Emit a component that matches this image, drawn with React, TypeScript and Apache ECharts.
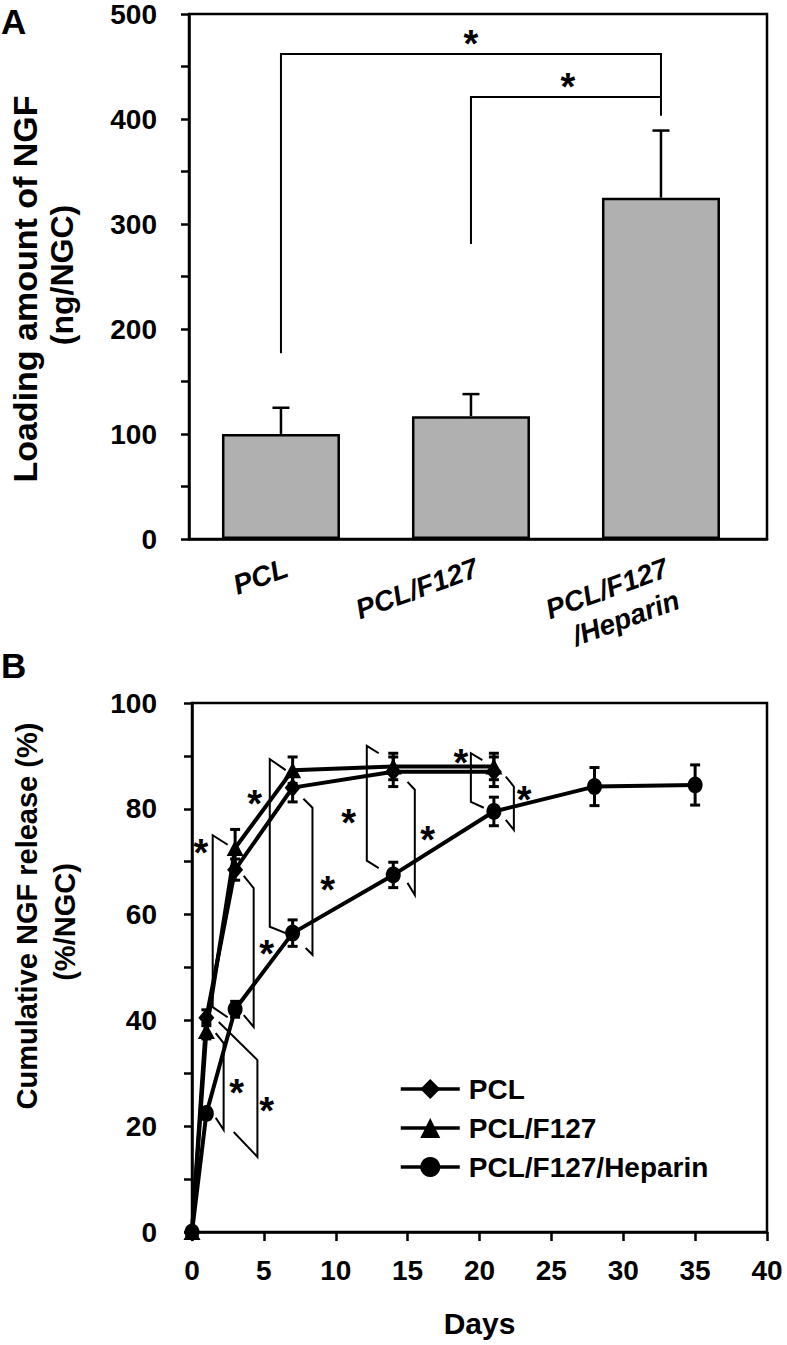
import React, { useEffect, useRef } from 'react';
import * as echarts from 'echarts';

const FONT = "'Liberation Sans', Arial, Helvetica, sans-serif";

// ---------- Panel A data ----------
const groups = ['PCL', 'PCL/F127', 'PCL/F127\n/Heparin'];
const groupPos = [0, 1, 2];
const loadingMean = [100, 117, 325];
const loadingSD = [25, 21, 64];
const sigBracketsA = [
  [[0, 177], [0, 462], [2, 462], [2, 403]],
  [[1, 281], [1, 421], [2, 421]],
];
const sigStarsA = [[1.0, 479], [1.51, 438]];

// ---------- Panel B data ----------
const seriesNames = ['PCL', 'PCL/F127', 'PCL/F127/Heparin'];
const daysPCL = [0, 1, 3, 7, 14, 21];
const releasePCL = [0, 40.5, 68.5, 84, 87, 87];
const sdPCL = [0, 1.5, 2, 2.7, 2.8, 2.8];
const daysF127 = [0, 1, 3, 7, 14, 21];
const releaseF127 = [0, 38, 72.6, 87.3, 88, 88];
const sdF127 = [0, 1.5, 3.5, 2.5, 2.5, 2.5];
const daysHep = [0, 1, 3, 7, 14, 21, 28, 35];
const releaseHep = [0, 22.4, 42.1, 56.5, 67.5, 79.5, 84.2, 84.5];
const sdHep = [0, 1, 1.5, 2.5, 2.4, 2.7, 3.6, 3.8];

const sigBracketsB = [
  [[2.48, 73.2], [1.44, 75.0], [1.44, 42.5], [2.48, 40.6]],
  [[3.6, 67.3], [4.29, 65.0], [4.29, 38.75], [3.6, 41.0]],
  [[6.52, 87.3], [5.41, 89.4], [5.41, 57.7], [6.52, 56.5]],
  [[7.75, 81.9], [8.38, 80.2], [8.38, 52.4], [7.91, 53.7]],
  [[12.99, 90.5], [12.16, 91.9], [12.16, 70.2], [12.99, 68.8]],
  [[14.99, 85.1], [15.5, 83.6], [15.5, 63.7], [14.99, 66.0]],
  [[20.2, 89.2], [19.4, 90.5], [19.4, 81.3], [20.3, 80.2]],
  [[21.83, 86.1], [22.39, 84.2], [22.39, 76.0], [21.83, 77.9]],
  [[1.65, 37.6], [2.2, 35.7], [2.2, 19.3], [1.65, 21.6]],
  [[1.86, 39.7], [4.55, 32.5], [4.55, 14.2], [2.9, 18.9]],
];
const sigStarsB = [
  [0.61, 73.2], [5.2, 54.1], [4.36, 82.4], [9.44, 66.2], [10.9, 78.8],
  [16.4, 75.6], [18.7, 90.2], [23.1, 83.2], [3.1, 27.8], [5.2, 24.4],
];

function zip(a: number[], b: number[]) {
  return a.map((v, i) => [v, b[i]]);
}
function zip3(a: number[], b: number[], c: number[]) {
  return a.map((v, i) => [v, b[i], c[i]]);
}

const bracketRender = (brackets: number[][][]) => (params: any, api: any) => {
  const pts = brackets[params.dataIndex].map((p) => api.coord(p));
  return {
    type: 'polyline',
    shape: { points: pts },
    style: { stroke: '#000', lineWidth: 2, fill: null },
  };
};

const starRender = (params: any, api: any) => {
  const p = api.coord([api.value(0), api.value(1)]);
  return {
    type: 'text',
    x: p[0],
    y: p[1] + 8,
    style: {
      text: '*',
      fill: '#000',
      fontSize: 38,
      fontWeight: 'bold',
      fontFamily: FONT,
      align: 'center',
      verticalAlign: 'middle',
    },
  };
};

const errRenderB = (params: any, api: any) => {
  const x = api.value(0);
  const y = api.value(1);
  const e = api.value(2);
  if (!e) return null;
  const hi = api.coord([x, y + e]);
  const lo = api.coord([x, y - e]);
  const hw = 5;
  const st = { stroke: '#000', lineWidth: 3 };
  return {
    type: 'group',
    children: [
      { type: 'line', shape: { x1: hi[0], y1: hi[1], x2: lo[0], y2: lo[1] }, style: st },
      { type: 'line', shape: { x1: hi[0] - hw, y1: hi[1], x2: hi[0] + hw, y2: hi[1] }, style: st },
      { type: 'line', shape: { x1: lo[0] - hw, y1: lo[1], x2: lo[0] + hw, y2: lo[1] }, style: st },
    ],
  };
};

const errRenderA = (params: any, api: any) => {
  const x = api.value(0);
  const y = api.value(1);
  const e = api.value(2);
  const base = api.coord([x, y]);
  const hi = api.coord([x, y + e]);
  const hw = 8.5;
  const st = { stroke: '#000', lineWidth: 2.5 };
  return {
    type: 'group',
    children: [
      { type: 'line', shape: { x1: base[0], y1: base[1], x2: hi[0], y2: hi[1] }, style: st },
      { type: 'line', shape: { x1: hi[0] - hw, y1: hi[1], x2: hi[0] + hw, y2: hi[1] }, style: st },
    ],
  };
};

const axisLineStyle = { show: true, onZero: false, lineStyle: { color: '#000', width: 2.5 } };
const tickStyle = { show: true, inside: false, length: 8, lineStyle: { color: '#000', width: 2.5 } };
const labelBase = { color: '#000', fontSize: 28, fontWeight: 'bold' as const, fontFamily: FONT };
const titleStyle = (text: string, size: number) => ({
  text,
  fontSize: size,
  fontWeight: 'bold',
  fontFamily: FONT,
  fill: '#000',
  align: 'center',
  verticalAlign: 'middle',
});

export default function App() {
  const ref = useRef<HTMLDivElement>(null);
  useEffect(() => {
    document.body.style.margin = '0';
    if (!ref.current) return;
    const chart = echarts.init(ref.current, undefined, { renderer: 'svg' });
    const option: any = {
      animation: false,
      backgroundColor: '#fff',
      grid: [
        { left: 189, top: 10, width: 578, height: 529, show: true, borderColor: '#000', borderWidth: 2.5, backgroundColor: 'transparent' },
        { left: 192, top: 703, width: 575, height: 529, show: true, borderColor: '#000', borderWidth: 2.5, backgroundColor: 'transparent' },
      ],
      xAxis: [
        {
          gridIndex: 0,
          type: 'value',
          min: -0.484,
          max: 2.558,
          axisLine: axisLineStyle,
          axisTick: { show: false },
          splitLine: { show: false },
          axisLabel: {
            ...labelBase,
            fontSize: 28,
            fontStyle: 'italic',
            customValues: groupPos,
            rotate: 20,
            margin: 12,
            verticalAlign: 'top',
            lineHeight: 34,
            formatter: (v: number) => groups[Math.round(v)] ?? '',
          },
        },
        {
          gridIndex: 1,
          type: 'value',
          min: 0,
          max: 40,
          interval: 5,
          axisLine: axisLineStyle,
          axisTick: { ...tickStyle, length: 9 },
          splitLine: { show: false },
          axisLabel: { ...labelBase, margin: 24 },
          name: 'Days',
          nameLocation: 'middle',
          nameGap: 76,
          nameTextStyle: { ...labelBase, fontSize: 30 },
        },
      ],
      yAxis: [
        {
          gridIndex: 0,
          type: 'value',
          min: 0,
          max: 500,
          interval: 50,
          axisLine: axisLineStyle,
          axisTick: tickStyle,
          splitLine: { show: false },
          axisLabel: {
            ...labelBase,
            margin: 32,
            formatter: (v: number) => (v % 100 === 0 ? String(v) : ''),
          },
        },
        {
          gridIndex: 1,
          type: 'value',
          min: 0,
          max: 100,
          interval: 10,
          axisLine: axisLineStyle,
          axisTick: tickStyle,
          splitLine: { show: false },
          axisLabel: {
            ...labelBase,
            margin: 35,
            formatter: (v: number) => (v % 20 === 0 ? String(v) : ''),
          },
        },
      ],
      legend: {
        orient: 'vertical',
        left: 394,
        top: 1070,
        itemWidth: 59,
        itemHeight: 25,
        itemGap: 11,
        data: seriesNames,
        textStyle: { ...labelBase, padding: [0, 0, 0, 4] },
        lineStyle: { width: 3.5, color: '#000' },
        itemStyle: { color: '#000' },
      },
      graphic: [
        { type: 'text', left: 1, top: 4, style: { text: 'A', fontSize: 35, fontWeight: 'bold', fontFamily: FONT, fill: '#000' } },
        { type: 'text', left: 1, top: 648, style: { text: 'B', fontSize: 35, fontWeight: 'bold', fontFamily: FONT, fill: '#000' } },
        { type: 'text', x: 25, y: 289, rotation: Math.PI / 2, style: titleStyle('Loading amount of NGF', 34) },
        { type: 'text', x: 62, y: 275, rotation: Math.PI / 2, style: titleStyle('(ng/NGC)', 32) },
        { type: 'text', x: 27, y: 916, rotation: Math.PI / 2, style: titleStyle('Cumulative NGF release (%)', 29) },
        { type: 'text', x: 65, y: 922, rotation: Math.PI / 2, style: titleStyle('(%/NGC)', 29) },
      ],
      series: [
        {
          type: 'bar',
          xAxisIndex: 0,
          yAxisIndex: 0,
          data: zip(groupPos, loadingMean),
          barWidth: 118,
          itemStyle: { color: '#b0b0b0', borderColor: '#000', borderWidth: 2.5 },
          z: 2,
        },
        {
          type: 'custom',
          xAxisIndex: 0,
          yAxisIndex: 0,
          data: zip3(groupPos, loadingMean, loadingSD),
          renderItem: errRenderA,
          encode: { x: 0, y: 1 },
          z: 3,
        },
        {
          type: 'custom',
          xAxisIndex: 0,
          yAxisIndex: 0,
          data: sigBracketsA.map((b) => b[0]),
          renderItem: bracketRender(sigBracketsA),
          encode: { x: 0, y: 1 },
          z: 3,
        },
        {
          type: 'custom',
          xAxisIndex: 0,
          yAxisIndex: 0,
          data: sigStarsA,
          renderItem: starRender,
          encode: { x: 0, y: 1 },
          z: 3,
        },
        {
          name: seriesNames[0],
          type: 'line',
          xAxisIndex: 1,
          yAxisIndex: 1,
          data: zip(daysPCL, releasePCL),
          symbol: 'diamond',
          symbolSize: [16, 19],
          lineStyle: { color: '#000', width: 4 },
          itemStyle: { color: '#000' },
          z: 4,
        },
        {
          name: seriesNames[1],
          type: 'line',
          xAxisIndex: 1,
          yAxisIndex: 1,
          data: zip(daysF127, releaseF127),
          symbol: 'triangle',
          symbolSize: [17, 16],
          lineStyle: { color: '#000', width: 4 },
          itemStyle: { color: '#000' },
          z: 4,
        },
        {
          name: seriesNames[2],
          type: 'line',
          xAxisIndex: 1,
          yAxisIndex: 1,
          data: zip(daysHep, releaseHep),
          symbol: 'circle',
          symbolSize: [15, 17],
          lineStyle: { color: '#000', width: 4 },
          itemStyle: { color: '#000' },
          z: 4,
        },
        {
          type: 'custom',
          xAxisIndex: 1,
          yAxisIndex: 1,
          data: [
            ...zip3(daysPCL, releasePCL, sdPCL),
            ...zip3(daysF127, releaseF127, sdF127),
            ...zip3(daysHep, releaseHep, sdHep),
          ],
          renderItem: errRenderB,
          encode: { x: 0, y: 1 },
          z: 5,
        },
        {
          type: 'custom',
          xAxisIndex: 1,
          yAxisIndex: 1,
          data: sigBracketsB.map((b) => b[0]),
          renderItem: bracketRender(sigBracketsB),
          encode: { x: 0, y: 1 },
          z: 3,
        },
        {
          type: 'custom',
          xAxisIndex: 1,
          yAxisIndex: 1,
          data: sigStarsB,
          renderItem: starRender,
          encode: { x: 0, y: 1 },
          z: 3,
        },
      ],
    };
    chart.setOption(option);
    return () => chart.dispose();
  }, []);
  return <div ref={ref} style={{ width: 787, height: 1345 }} />;
}
